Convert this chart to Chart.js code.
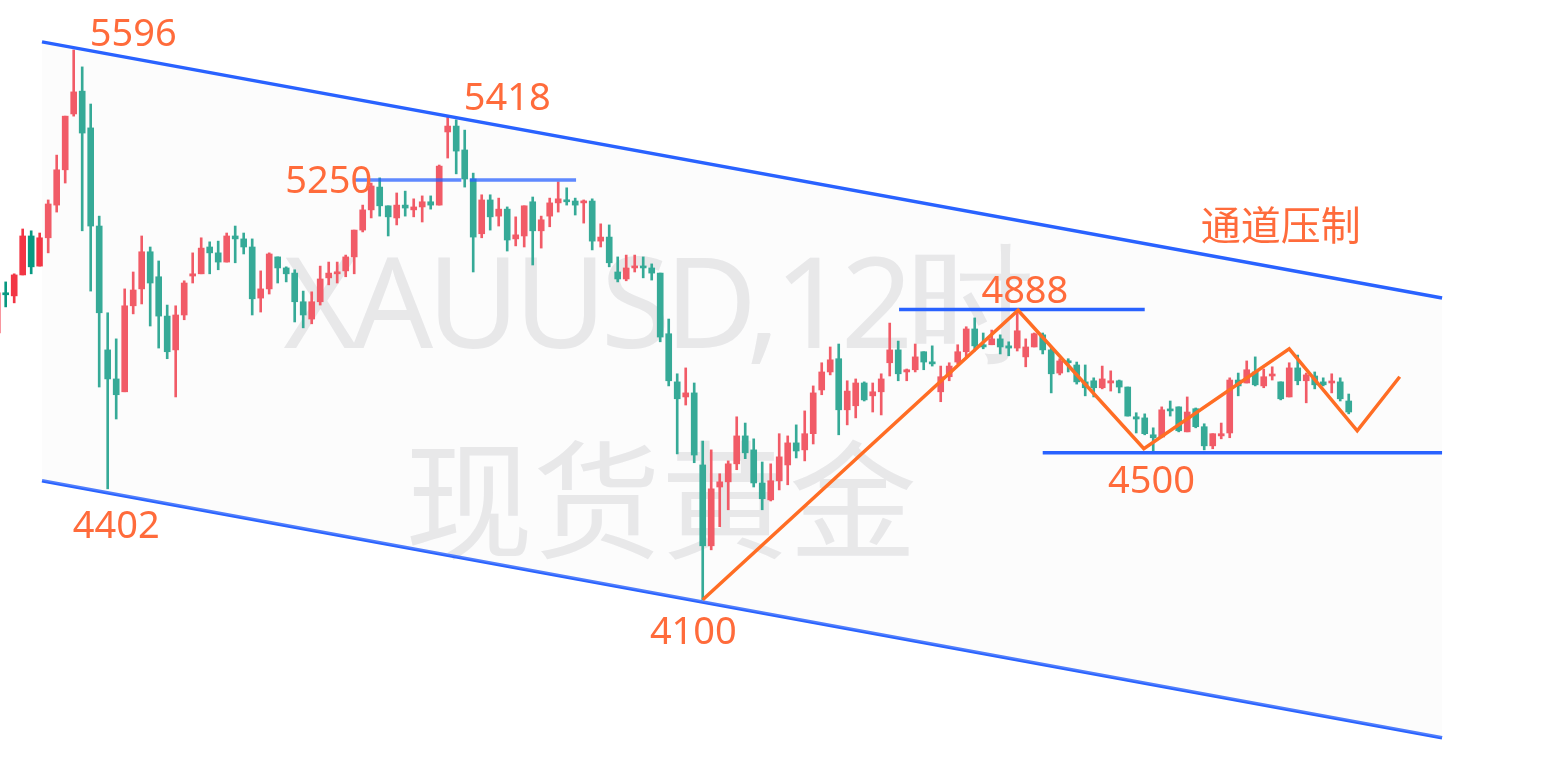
<!DOCTYPE html>
<html>
<head>
<meta charset="utf-8">
<script src="https://cdn.jsdelivr.net/npm/chart.js@4.4.1/dist/chart.umd.min.js"></script>
<style>
    html, body { margin: 0; padding: 0; background: #ffffff; }
    #wrap { width: 1558px; height: 770px; }
</style>
</head>
<body>
<div id="wrap"><canvas id="goldChart"></canvas></div>
<script>
// XAUUSD 12h candles, index starts at 1
const opens  = [4826,4935,4927,4984,5090,5008,5085,5174,5270,5422,5484,5384,5117,4780,4701,4666,4900,4946,5047,4979,
                4872,4780,4875,4981,4987,5060,5044,5019,5090,5082,5060,4921,4946,5033,5003,4989,4911,4864,4911,4976,
                4987,4995,5033,5106,5161,5223,5172,5139,5174,5161,5169,5183,5174,5373,5389,5324,5245,5096,5188,5144,
                5163,5082,5090,5183,5104,5144,5180,5188,5185,5180,5185,5076,5087,4992,4973,5003,5008,5003,4989,4824,
                4693,4652,4663,4467,4247,4407,4421,4470,4546,4508,4418,4372,4424,4467,4527,4508,4552,4671,4720,4756,
                4617,4628,4690,4655,4666,4745,4780,4720,4726,4775,4747,4666,4707,4747,4775,4837,4794,4794,4810,4791,
                4785,4761,4788,4821,4780,4717,4750,4739,4693,4696,4677,4690,4696,4679,4598,4595,4549,4543,4617,4625,
                4557,4620,4571,4519,4546,4554,4698,4690,4720,4682,4709,4693,4652,4731,4696,4709,4693,4690,4693,4641];
const highs  = [4943,4965,4987,5109,5104,5098,5188,5310,5416,5596,5550,5449,5144,4881,4810,4946,4992,5090,5060,5022,
                4902,4900,4968,5044,5085,5074,5076,5098,5117,5098,5082,4995,5044,5033,5006,4998,4940,4938,5008,5019,
                5019,5038,5106,5174,5234,5248,5172,5207,5212,5191,5199,5199,5283,5418,5406,5378,5261,5202,5202,5193,
                5169,5142,5172,5196,5144,5193,5237,5221,5193,5188,5191,5123,5120,5033,5038,5038,5033,5014,4989,4864,
                4715,4731,4690,4532,4508,4443,4478,4598,4581,4538,4475,4470,4552,4546,4576,4614,4682,4745,4788,4796,
                4696,4701,4693,4690,4715,4853,4804,4728,4796,4775,4791,4736,4745,4794,4843,4867,4826,4834,4821,4802,
                4888,4810,4826,4826,4788,4756,4756,4747,4739,4704,4736,4723,4698,4679,4609,4606,4568,4625,4641,4625,
                4652,4622,4579,4552,4581,4704,4717,4750,4761,4728,4734,4693,4745,4766,4717,4720,4704,4715,4704,4660];
const lows   = [4818,4897,4908,4984,4987,5008,5044,5155,5234,5416,5104,4940,4679,4402,4592,4666,4878,4905,4845,4785,
                4756,4652,4862,4962,4987,4987,4998,5019,5017,5041,4875,4883,4932,4962,4965,4856,4840,4851,4902,4957,
                4962,4979,4987,5101,5139,5144,5090,5120,5144,5142,5128,5163,5174,5302,5259,5223,4992,5085,5106,5117,
                5049,5063,5060,5011,5057,5115,5155,5174,5147,5125,5052,5060,5006,4965,4968,4992,4976,4970,4802,4682,
                4497,4630,4473,4100,4236,4299,4345,4454,4484,4407,4345,4369,4399,4413,4486,4478,4524,4658,4712,4549,
                4576,4595,4641,4611,4603,4709,4696,4696,4720,4726,4736,4639,4696,4742,4761,4777,4783,4794,4769,4764,
                4777,4734,4788,4769,4663,4712,4720,4687,4655,4652,4674,4668,4663,4600,4554,4549,4505,4541,4600,4557,
                4557,4568,4508,4511,4538,4541,4655,4690,4682,4677,4698,4644,4652,4685,4636,4674,4682,4663,4641,4606];
const closes = [4935,4930,4984,5090,5006,5085,5177,5270,5416,5482,5370,5117,4881,4701,4658,4900,4943,5047,4962,4872,
                4775,4875,4962,4987,5057,5044,5019,5090,5082,5060,4919,4946,5041,5003,4987,4911,4875,4911,4973,4989,
                4992,5033,5106,5161,5226,5172,5142,5174,5166,5169,5183,5174,5280,5389,5321,5245,5087,5188,5142,5163,
                5079,5093,5172,5104,5134,5180,5191,5183,5174,5185,5076,5087,5017,4973,5003,5008,5003,4989,4815,4696,
                4647,4663,4494,4247,4402,4421,4470,4546,4500,4418,4375,4424,4489,4527,4505,4552,4663,4720,4753,4617,
                4668,4690,4644,4666,4701,4780,4715,4726,4761,4747,4742,4707,4736,4775,4837,4791,4788,4810,4788,4785,
                4832,4788,4824,4780,4715,4750,4745,4693,4677,4677,4701,4696,4679,4600,4592,4552,4541,4617,4614,4560,
                4611,4571,4519,4552,4552,4698,4682,4726,4685,4707,4712,4647,4731,4696,4712,4685,4685,4693,4647,4611];

// drawn objects: channel, levels and the zigzag path, as [index, price]
const channelTop    = [[6.27, 5618], [170.98, 4921]];
const channelBottom = [[6.27, 4424], [170.98, 3725]];
const level5250a    = [[43.1, 5242], [55.6, 5242]];
const level5250b    = [[56.6, 5242], [69.1, 5242]];
const level4888     = [[107.1, 4890], [136.0, 4890]];
const level4500     = [[124.0, 4500], [170.98, 4500]];
const zigzag        = [[84.0, 4100], [121.1, 4888], [135.9, 4511], [153.0, 4783], [161.0, 4560], [166.0, 4707]];

// price notes: text, index, price
const notes = [
    ['5596', 17.0, 5607],
    ['5418', 61.0, 5433],
    ['5250', 40.0, 5207],
    ['4402', 15.0, 4269],
    ['4100', 82.9, 3980],
    ['4888', 121.9, 4908],
    ['4500', 136.8, 4391]
];
const channelNote = ['通道压制', 152.0, 5120];

const upColor = '#f23645';
const downColor = '#089981';
const blue = '#2962ff';
const orange = '#ff6d24';
const textOrange = '#ff6b3b';

const candleColors = opens.map((o, i) => closes[i] >= o ? upColor : downColor);
const toPoints = arr => arr.map(p => ({ x: p[0], y: p[1] }));

function lineSet(points, color, width, extra) {
    return Object.assign({
        type: 'line',
        data: toPoints(points),
        borderColor: color,
        borderWidth: width,
        pointRadius: 0,
        fill: false,
        tension: 0,
        order: 0
    }, extra || {});
}

// watermark under the candles, notes on top
const textPlugin = {
    id: 'textPlugin',
    beforeDatasetsDraw(chart) {
        const ctx = chart.ctx;
        ctx.save();
        ctx.fillStyle = '#e6e6e8';
        ctx.textAlign = 'center';
        ctx.textBaseline = 'alphabetic';
        ctx.font = '127px "Noto Sans"';
        ctx.letterSpacing = '-6px';
        ctx.fillText('XAUUSD,12时', 656, 348);
        ctx.letterSpacing = '0px';
        ctx.font = '128px "Noto Sans CJK SC"';
        ctx.textBaseline = 'middle';
        ctx.fillText('现货黄金', 661, 500);
        ctx.restore();
    },
    afterDatasetsDraw(chart) {
        const ctx = chart.ctx;
        const xs = chart.scales.x;
        const ys = chart.scales.y;
        ctx.save();
        ctx.fillStyle = textOrange;
        ctx.textAlign = 'center';
        ctx.textBaseline = 'alphabetic';
        ctx.font = '38px "Noto Sans"';
        notes.forEach(n => {
            ctx.fillText(n[0], xs.getPixelForValue(n[1]), ys.getPixelForValue(n[2]));
        });
        ctx.textBaseline = 'middle';
        ctx.font = '40px "Noto Sans CJK SC"';
        ctx.fillText(channelNote[0], xs.getPixelForValue(channelNote[1]), ys.getPixelForValue(channelNote[2]));
        ctx.restore();
    }
};

const ctx = document.getElementById('goldChart').getContext('2d');
new Chart(ctx, {
    type: 'bar',
    data: {
        datasets: [
            lineSet(zigzag, orange, 3.5),
            lineSet(level4888, blue, 3.5),
            lineSet(level4500, blue, 3.5),
            lineSet(level5250a, 'rgba(41, 98, 255, 0.75)', 3.5),
            lineSet(level5250b, 'rgba(41, 98, 255, 0.75)', 3.5),
            lineSet(channelTop, blue, 3.5, { fill: '+1', backgroundColor: 'rgba(240, 240, 240, 0.2)' }),
            lineSet(channelBottom, blue, 3.5),
            {
                // bodies
                data: opens.map((o, i) => ({ x: i + 1, y: [o, closes[i]] })),
                backgroundColor: candleColors,
                barThickness: 6,
                minBarLength: 2,
                grouped: false,
                order: 1
            },
            {
                // wicks
                data: lows.map((l, i) => ({ x: i + 1, y: [l, highs[i]] })),
                backgroundColor: candleColors,
                barThickness: 2,
                grouped: false,
                order: 2
            }
        ]
    },
    options: {
        responsive: true,
        maintainAspectRatio: false,
        animation: false,
        layout: { padding: 0 },
        plugins: {
            legend: { display: false },
            tooltip: { enabled: false }
        },
        scales: {
            x: { type: 'linear', display: false, min: 1.33, max: 184.62, offset: false },
            y: { type: 'linear', display: false, min: 3637, max: 5732 }
        }
    },
    plugins: [textPlugin]
});
</script>
</body>
</html>
